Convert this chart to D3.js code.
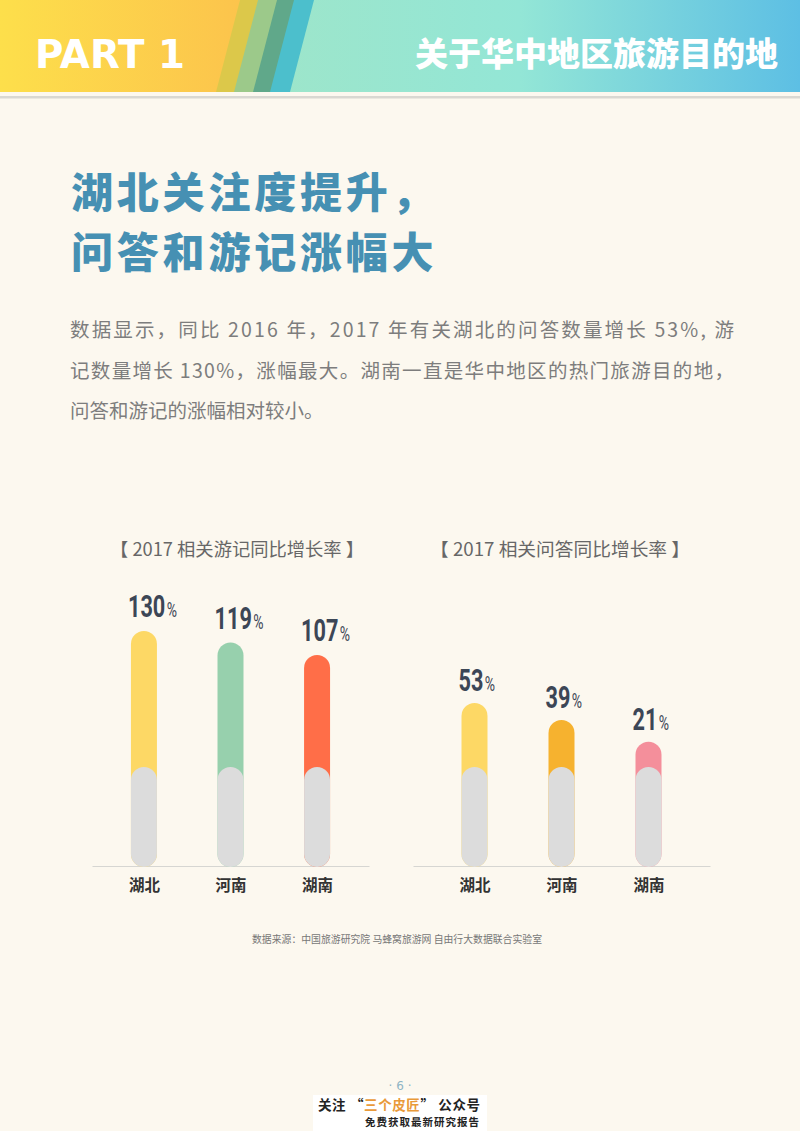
<!DOCTYPE html>
<html>
<head>
<meta charset="utf-8">
<script src="https://cdn.jsdelivr.net/npm/d3@7"></script>
<style>
  html, body { margin: 0; padding: 0; background: #fcf8ef; }
  svg { display: block; }
</style>
</head>
<body>
<svg></svg>
<script>
// chart data
let regions = ["湖北", "河南", "湖南"]
let notesGrowth = [130, 119, 107]   // 2017 相关游记同比增长率
let qaGrowth = [53, 39, 21]         // 2017 相关问答同比增长率
let notesColors = ["#fdd865", "#97d0ad", "#ff6e48"]
let qaColors = ["#fdd865", "#f6b22f", "#f48f9b"]

let width = 800
let height = 1131
let cjk = "'Noto Sans CJK SC', 'Noto Sans', sans-serif"

let svg = d3.select("svg").attr("width", width).attr("height", height)

svg.append("rect").attr("width", width).attr("height", height).attr("fill", "#fcf8ef")

// ---- header band ----
let defs = svg.append("defs")
let gRight = defs.append("linearGradient").attr("id", "gr")
gRight.append("stop").attr("offset", "0%").attr("stop-color", "#a9e5bd")
gRight.append("stop").attr("offset", "65%").attr("stop-color", "#93e6d6")
gRight.append("stop").attr("offset", "100%").attr("stop-color", "#5dbfe4")
let gLeft = defs.append("linearGradient").attr("id", "gl")
gLeft.append("stop").attr("offset", "0%").attr("stop-color", "#fddf4b")
gLeft.append("stop").attr("offset", "100%").attr("stop-color", "#fcc44c")

svg.append("rect").attr("x", 0).attr("y", 0).attr("width", width).attr("height", 92).attr("fill", "url(#gr)")

let stripes = [
  { top: 314, bottom: 290, color: "#4cbfcc" },
  { top: 294, bottom: 270, color: "#60a88a" },
  { top: 277, bottom: 253, color: "#9cc98a" },
  { top: 258, bottom: 234, color: "#dcc84a" },
  { top: 240, bottom: 216, color: "url(#gl)" }
]
stripes.forEach(s => {
  svg.append("path")
    .attr("d", `M0,0 L${s.top},0 L${s.bottom},92 L0,92 Z`)
    .attr("fill", s.color)
})

svg.append("rect").attr("x", 0).attr("y", 96).attr("width", width).attr("height", 2.5).attr("fill", "#d9d8d2")

svg.append("text")
  .attr("x", 35).attr("y", 68)
  .attr("textLength", 150).attr("lengthAdjust", "spacingAndGlyphs")
  .attr("font-family", "'DejaVu Sans', sans-serif").attr("font-weight", 700)
  .attr("font-size", 39).attr("fill", "#ffffff")
  .text("PART 1")

svg.append("text")
  .attr("x", 415).attr("y", 66)
  .attr("textLength", 363).attr("lengthAdjust", "spacingAndGlyphs")
  .attr("font-family", cjk).attr("font-weight", 900)
  .attr("font-size", 33).attr("fill", "#ffffff")
  .text("关于华中地区旅游目的地")

// ---- title ----
let titleLines = ["湖北关注度提升，", "问答和游记涨幅大"]
svg.selectAll(".title")
  .data(titleLines)
  .enter()
  .append("text")
  .attr("class", "title")
  .attr("x", 71)
  .attr("y", (d, i) => 208 + i * 60)
  .attr("font-family", cjk).attr("font-weight", 900)
  .attr("font-size", 42).attr("letter-spacing", 3.8)
  .attr("fill", "#4690b3")
  .text(d => d)

// ---- body text ----
let bodyLines = [
  "数据显示，同比 2016 年，2017 年有关湖北的问答数量增长 53%, 游",
  "记数量增长 130%，涨幅最大。湖南一直是华中地区的热门旅游目的地，",
  "问答和游记的涨幅相对较小。"
]
svg.selectAll(".body")
  .data(bodyLines)
  .enter()
  .append("text")
  .attr("class", "body")
  .attr("x", 70)
  .attr("y", (d, i) => 337 + i * 40.5)
  .attr("font-family", cjk).attr("font-weight", 400)
  .attr("font-size", 19.5).attr("fill", "#7d7d7d")
  .attr("textLength", (d, i) => i < 2 ? 664 : null)
  .attr("lengthAdjust", "spacing")
  .text(d => d)

// ---- charts ----
let baseY = 866
let barW = 26

let drawChart = (cfg) => {
  let x = d3.scalePoint().domain(regions).range(cfg.range).padding(cfg.pad)
  let y = d3.scaleLinear().domain([0, d3.max(cfg.values)]).range([767, cfg.topY])
  let color = d3.scaleOrdinal(regions, cfg.colors)
  let rows = regions.map((r, i) => ({ region: r, value: cfg.values[i] }))

  let g = svg.append("g")

  g.append("text")
    .attr("x", cfg.titleX).attr("y", 556)
    .attr("textLength", cfg.titleW).attr("lengthAdjust", "spacingAndGlyphs")
    .attr("font-family", cjk).attr("font-size", 18)
    .attr("fill", "#676767")
    .text(cfg.title)

  let xAxis = d3.axisBottom(x).tickSize(0).tickPadding(14)
  let ax = g.append("g")
    .attr("transform", "translate(0," + baseY + ")")
    .call(xAxis)
  ax.select(".domain").attr("stroke", "#d6d6d2").attr("stroke-width", 1.2)
  ax.selectAll("text")
    .attr("font-family", cjk).attr("font-weight", 700)
    .attr("font-size", 15.5).attr("fill", "#333333")

  g.selectAll(".bar")
    .data(rows)
    .enter()
    .append("rect")
    .attr("class", "bar")
    .attr("x", d => x(d.region) - barW / 2)
    .attr("y", d => y(d.value))
    .attr("width", barW)
    .attr("height", d => baseY + 1 - y(d.value))
    .attr("rx", barW / 2)
    .attr("fill", d => color(d.region))

  g.selectAll(".base")
    .data(rows)
    .enter()
    .append("rect")
    .attr("class", "base")
    .attr("x", d => x(d.region) - barW / 2)
    .attr("y", y(0))
    .attr("width", barW)
    .attr("height", baseY + 1 - y(0))
    .attr("rx", barW / 2)
    .attr("fill", "#dcdcdc")

  let labels = g.selectAll(".val")
    .data(rows)
    .enter()
    .append("g")
    .attr("class", "val")
    .attr("transform", d => "translate(" + (x(d.region) - barW / 2 - 3) + "," + (y(d.value) - cfg.gap) + ") scale(0.7,1)")
  let t = labels.append("text")
    .attr("font-family", "Roboto, sans-serif")
    .attr("fill", "#3c4656")
  t.append("tspan").attr("font-size", 31).attr("font-weight", 700).text(d => d.value)
  t.append("tspan").attr("font-size", 20).attr("font-weight", 400).attr("dx", 2).text("%")
}

drawChart({
  values: notesGrowth, colors: notesColors,
  range: [92, 369], pad: 0.6, topY: 631, gap: 14,
  title: "【 2017 相关游记同比增长率 】", titleX: 110, titleW: 254
})

drawChart({
  values: qaGrowth, colors: qaColors,
  range: [413, 710], pad: 0.707, topY: 703, gap: 12,
  title: "【 2017 相关问答同比增长率 】", titleX: 430, titleW: 260
})

// ---- source & footer ----
svg.append("text")
  .attr("x", 252).attr("y", 943)
  .attr("textLength", 290).attr("lengthAdjust", "spacingAndGlyphs")
  .attr("font-family", cjk).attr("font-size", 10.5).attr("fill", "#777777")
  .text("数据来源：中国旅游研究院 马蜂窝旅游网 自由行大数据联合实验室")

svg.append("text")
  .attr("x", 400).attr("y", 1090)
  .attr("text-anchor", "middle")
  .attr("font-family", "'DejaVu Sans', sans-serif").attr("font-size", 12)
  .attr("fill", "#8fb4c4")
  .text("· 6 ·")

svg.append("rect").attr("x", 313).attr("y", 1095).attr("width", 174).attr("height", 36).attr("fill", "#ffffff")

let f1 = svg.append("text")
  .attr("x", 318).attr("y", 1110)
  .attr("textLength", 162).attr("lengthAdjust", "spacing")
  .attr("font-family", cjk).attr("font-weight", 700)
  .attr("font-size", 13.5).attr("fill", "#222222")
f1.append("tspan").text("关注 “")
f1.append("tspan").attr("fill", "#e99a3a").text("三个皮匠")
f1.append("tspan").text("” 公众号")

svg.append("text")
  .attr("x", 480).attr("y", 1126)
  .attr("text-anchor", "end")
  .attr("font-family", cjk).attr("font-weight", 700)
  .attr("font-size", 10.5).attr("letter-spacing", 1)
  .attr("fill", "#222222")
  .text("免费获取最新研究报告")
</script>
</body>
</html>
